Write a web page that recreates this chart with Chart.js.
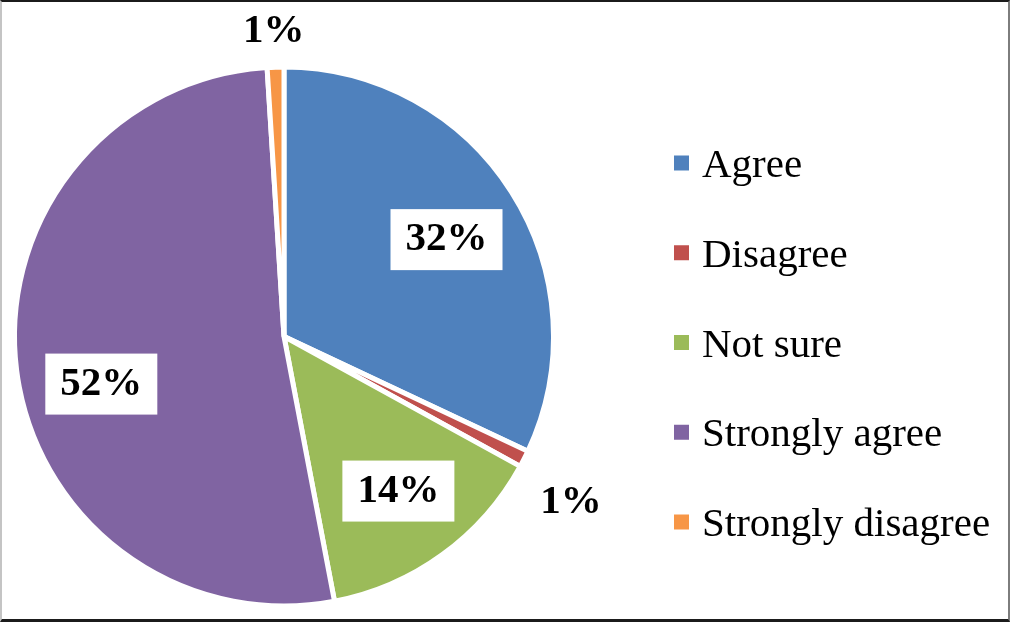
<!DOCTYPE html>
<html>
<head>
<meta charset="utf-8">
<title>Responses</title>
<script src="https://cdn.jsdelivr.net/npm/chart.js@4.4.1/dist/chart.umd.min.js"></script>
<style>
   html, body { margin: 0; padding: 0; background: #fff; }
   .frame { position: relative; width: 1010px; height: 622px; }
   .frame canvas { position: absolute; left: 0; top: 0; }
   .frame .edge {
      position: absolute; left: 0; top: 0; width: 1010px; height: 622px; box-sizing: border-box;
      border-top: 2px solid #1b1b1b; border-bottom: 3px solid #1b1b1b;
      border-left: 2px solid #c4c4c4; border-right: 2px solid #7d7d7d;
      pointer-events: none;
   }
</style>
</head>
<body>
<div class="frame">
   <canvas id="pie" width="1010" height="622"></canvas>
   <div class="edge"></div>
</div>
<script>
const categories = ['Agree', 'Disagree', 'Not sure', 'Strongly agree', 'Strongly disagree'];
const shares = [32, 1, 14, 52, 1];
const sliceColors = ['#4f81bd', '#c0504d', '#9bbb59', '#8064a2', '#f79646'];

// percentage labels, white box for the big slices, outside for the 1% ones
const sliceLabels = {
   id: 'sliceLabels',
   afterDatasetsDraw(chart, args, opts) {
      const ctx = chart.ctx;
      const arcs = chart.getDatasetMeta(0).data;
      ctx.save();
      ctx.font = opts.font;
      ctx.textAlign = 'center';
      ctx.textBaseline = 'middle';
      arcs.forEach((arc, i) => {
         const place = opts.place[i];
         const p = arc.getProps(['x', 'y', 'startAngle', 'endAngle', 'outerRadius'], true);
         const mid = (p.startAngle + p.endAngle) / 2 + place.turn * Math.PI / 180;
         const r = p.outerRadius * place.r;
         const x = p.x + Math.cos(mid) * r;
         const y = p.y + Math.sin(mid) * r;
         if (place.box) {
            ctx.fillStyle = '#fff';
            ctx.fillRect(x - 56, y - 30.5, 112, 61);
         }
         ctx.fillStyle = '#000';
         ctx.fillText(chart.data.datasets[0].data[i] + '%', x, y);
      });
      ctx.restore();
   }
};

// legend on the right, square marker + serif label
const sideLegend = {
   id: 'sideLegend',
   afterDraw(chart, args, opts) {
      const ctx = chart.ctx;
      const colors = chart.data.datasets[0].backgroundColor;
      ctx.save();
      ctx.font = opts.font;
      ctx.textAlign = 'left';
      ctx.textBaseline = 'alphabetic';
      chart.data.labels.forEach((label, i) => {
         const y = opts.top + i * opts.step;
         ctx.fillStyle = colors[i];
         ctx.fillRect(opts.left, y - 7.5, 15, 15);
         ctx.fillStyle = '#000';
         ctx.fillText(label, opts.left + 28, y + 14);
      });
      ctx.restore();
   }
};

const pie = document.getElementById('pie');
new Chart(pie, {
   type: 'pie',
   data: {
      labels: categories,
      datasets: [{
         data: shares,
         backgroundColor: sliceColors,
         borderColor: '#ffffff',
         borderWidth: 5
      }]
   },
   options: {
      responsive: false,
      animation: false,
      layout: {
         padding: { left: 12, right: 454, top: 64.5, bottom: 13.5 }
      },
      plugins: {
         legend: { display: false },
         tooltip: { enabled: false },
         sliceLabels: {
            font: 'bold 41px "Liberation Serif", "Times New Roman", serif',
            place: [
               { r: 0.702, turn: 1.6, box: true },
               { r: 1.23, turn: 3.0, box: false },
               { r: 0.7135, turn: -0.5, box: true },
               { r: 0.7005, turn: -7.4, box: true },
               { r: 1.134, turn: -0.1, box: false }
            ]
         },
         sideLegend: {
            font: '41px "Liberation Serif", "Times New Roman", serif',
            left: 674,
            top: 163,
            step: 89.75
         }
      }
   },
   plugins: [sliceLabels, sideLegend]
});
</script>
</body>
</html>
